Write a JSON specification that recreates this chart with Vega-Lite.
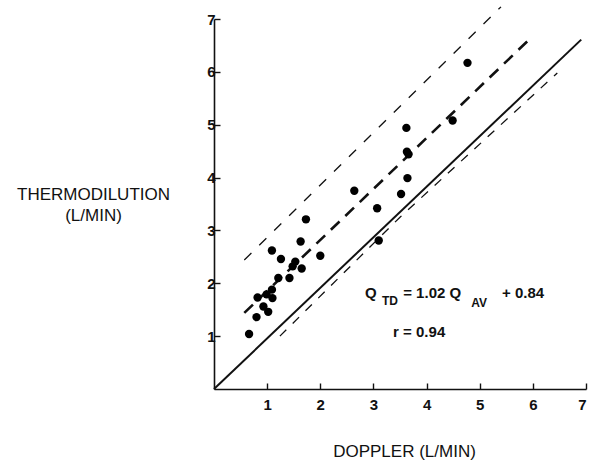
{
  "$schema": "https://vega.github.io/schema/vega-lite/v6.json",
  "width": 372,
  "height": 370,
  "autosize": {"type": "none"},
  "padding": {"left": 214, "top": 19, "right": 11, "bottom": 72},
  "background": "white",
  "config": {
    "view": {"stroke": null},
    "font": "Liberation Sans",
    "axis": {
      "grid": false,
      "domainColor": "#111",
      "domainWidth": 1.6,
      "tickColor": "#111",
      "tickWidth": 1.4,
      "tickSize": -6,
      "labelColor": "#111",
      "labelFont": "Liberation Sans",
      "labelFontSize": 15,
      "labelFontWeight": "bold",
      "titleColor": "#111",
      "titleFont": "Liberation Sans",
      "titleFontSize": 17,
      "titleFontWeight": "normal"
    }
  },
  "datasets": {
    "points": [
      {"doppler": 0.66, "thermo": 1.04},
      {"doppler": 0.80, "thermo": 1.36},
      {"doppler": 0.93, "thermo": 1.56},
      {"doppler": 1.02, "thermo": 1.46},
      {"doppler": 0.82, "thermo": 1.73},
      {"doppler": 0.99, "thermo": 1.79},
      {"doppler": 1.10, "thermo": 1.72},
      {"doppler": 1.09, "thermo": 1.88},
      {"doppler": 1.21, "thermo": 2.10},
      {"doppler": 1.42, "thermo": 2.10},
      {"doppler": 1.48, "thermo": 2.32},
      {"doppler": 1.53, "thermo": 2.41},
      {"doppler": 1.65, "thermo": 2.28},
      {"doppler": 1.09, "thermo": 2.62},
      {"doppler": 1.26, "thermo": 2.46},
      {"doppler": 1.63, "thermo": 2.79},
      {"doppler": 1.73, "thermo": 3.21},
      {"doppler": 2.00, "thermo": 2.52},
      {"doppler": 2.64, "thermo": 3.75},
      {"doppler": 3.07, "thermo": 3.42},
      {"doppler": 3.10, "thermo": 2.81},
      {"doppler": 3.52, "thermo": 3.69},
      {"doppler": 3.64, "thermo": 3.99},
      {"doppler": 3.63, "thermo": 4.49},
      {"doppler": 3.66, "thermo": 4.44},
      {"doppler": 3.62, "thermo": 4.94},
      {"doppler": 4.49, "thermo": 5.08},
      {"doppler": 4.77, "thermo": 6.17}
    ],
    "identity": [
      {"doppler": 0, "thermo": 0},
      {"doppler": 6.91, "thermo": 6.61}
    ],
    "regression": [
      {"doppler": 0.57, "thermo": 1.44},
      {"doppler": 5.94, "thermo": 6.62}
    ],
    "upper": [
      {"doppler": 0.57, "thermo": 2.44},
      {"doppler": 5.40, "thermo": 7.23}
    ],
    "lower": [
      {"doppler": 1.24, "thermo": 1.0},
      {"doppler": 3.5, "thermo": 3.25},
      {"doppler": 6.46, "thermo": 5.98}
    ],
    "eqmain": [
      {"x": 2.84, "y": 1.72, "label": "Q"},
      {"x": 3.56, "y": 1.72, "label": "= 1.02 Q"},
      {"x": 5.42, "y": 1.72, "label": "+ 0.84"},
      {"x": 3.37, "y": 0.98, "label": "r = 0.94"}
    ],
    "eqsub": [
      {"x": 3.16, "y": 1.59, "label": "TD"},
      {"x": 4.84, "y": 1.55, "label": "AV"}
    ]
  },
  "layer": [
    {
      "data": {"name": "identity"},
      "mark": {"type": "line", "color": "#111", "strokeWidth": 2, "clip": false},
      "encoding": {
        "x": {
          "field": "doppler", "type": "quantitative",
          "scale": {"domain": [0, 7], "nice": false, "zero": true},
          "axis": {
            "values": [1, 2, 3, 4, 5, 6, 7],
            "format": "d",
            "title": "DOPPLER (L/MIN)",
            "labelPadding": 14,
            "labelBaseline": "top",
            "titleX": 190,
            "titleY": 62,
            "titleBaseline": "middle",
            "titleAlign": "center",
            "titleAnchor": null
          }
        },
        "y": {
          "field": "thermo", "type": "quantitative",
          "scale": {"domain": [0, 7], "nice": false, "zero": true},
          "axis": {
            "values": [1, 2, 3, 4, 5, 6, 7],
            "format": "d",
            "title": ["THERMODILUTION", "(L/MIN)"],
            "titleAngle": 0,
            "titleAlign": "center",
            "titleBaseline": "middle",
            "titleLineHeight": 21,
            "titleX": -121,
            "titleY": 175,
            "titleAnchor": null,
            "labelPadding": 5
          }
        }
      }
    },
    {
      "data": {"name": "regression"},
      "mark": {"type": "line", "color": "#111", "strokeWidth": 2.6, "strokeDash": [12, 8], "clip": false},
      "encoding": {
        "x": {"field": "doppler", "type": "quantitative"},
        "y": {"field": "thermo", "type": "quantitative"}
      }
    },
    {
      "data": {"name": "upper"},
      "mark": {"type": "line", "color": "#111", "strokeWidth": 1.3, "strokeDash": [10, 11], "clip": false},
      "encoding": {
        "x": {"field": "doppler", "type": "quantitative"},
        "y": {"field": "thermo", "type": "quantitative"}
      }
    },
    {
      "data": {"name": "lower"},
      "mark": {"type": "line", "color": "#111", "strokeWidth": 1.3, "strokeDash": [9, 9], "clip": false},
      "encoding": {
        "x": {"field": "doppler", "type": "quantitative"},
        "y": {"field": "thermo", "type": "quantitative"}
      }
    },
    {
      "data": {"name": "points"},
      "mark": {"type": "circle", "color": "#000", "opacity": 1, "size": 70},
      "encoding": {
        "x": {"field": "doppler", "type": "quantitative"},
        "y": {"field": "thermo", "type": "quantitative"}
      }
    },
    {
      "data": {"name": "eqmain"},
      "mark": {"type": "text", "align": "left", "baseline": "alphabetic", "font": "Liberation Sans", "fontSize": 15, "fontWeight": "bold", "color": "#111"},
      "encoding": {
        "x": {"field": "x", "type": "quantitative"},
        "y": {"field": "y", "type": "quantitative"},
        "text": {"field": "label"}
      }
    },
    {
      "data": {"name": "eqsub"},
      "mark": {"type": "text", "align": "left", "baseline": "alphabetic", "font": "Liberation Sans", "fontSize": 12, "fontWeight": "bold", "color": "#111"},
      "encoding": {
        "x": {"field": "x", "type": "quantitative"},
        "y": {"field": "y", "type": "quantitative"},
        "text": {"field": "label"}
      }
    }
  ]
}
